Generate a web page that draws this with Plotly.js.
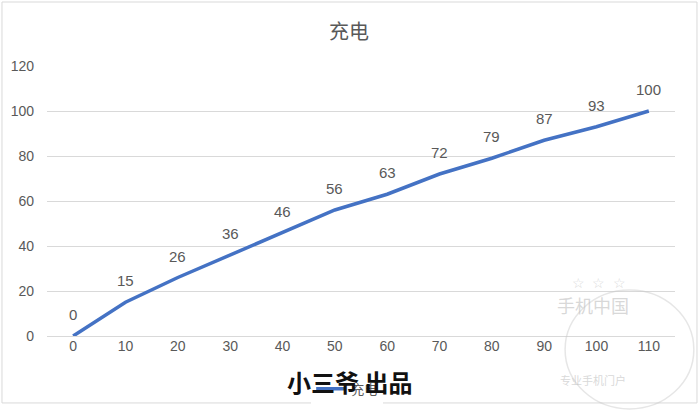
<!DOCTYPE html>
<html><head><meta charset="utf-8">
<script src="https://cdn.plot.ly/plotly-3.0.1.min.js"></script>
<style>body{margin:0;background:#fff}#c{width:698px;height:410px}</style>
</head><body><div id="c"></div>
<script>
const categories = ['0','10','20','30','40','50','60','70','80','90','100','110'];
const values = [0,15,26,36,46,56,63,72,79,87,93,100];
const seriesName = '充电';
const font = 'Liberation Sans, Arial, Noto Sans CJK SC, sans-serif';
const trace = {
  x: categories, y: values, type: 'scatter', mode: 'lines', name: seriesName,
  line: {color: '#4472C4', width: 3.5}
};
const labelAnns = categories.map((c, i) => ({
  x: i, y: values[i], xref: 'x', yref: 'y', text: String(values[i]), showarrow: false,
  yanchor: 'bottom', yshift: 11, font: {color: '#595959', size: 15, family: font}
}));
const layout = {
  width: 698, height: 410,
  margin: {l: 47, r: 23, t: 66, b: 74, autoexpand: false},
  paper_bgcolor: '#fff', plot_bgcolor: '#fff',
  title: {text: seriesName, x: 0.5, y: 0.922, xanchor: 'center', yanchor: 'middle', font: {size: 20, color: '#595959', family: 'Noto Sans CJK SC, sans-serif'}},
  xaxis: {type: 'category', range: [-0.5, 11.5], showgrid: false, zeroline: false, showline: false,
    ticks: '', tickfont: {size: 14, color: '#595959', family: font}, fixedrange: true},
  yaxis: {range: [0, 120], dtick: 20, showgrid: true, gridcolor: '#d9d9d9', gridwidth: 1, zeroline: true,
    zerolinecolor: '#d9d9d9', showline: false, ticks: '', ticklabelstandoff: 12,
    tickfont: {size: 14, color: '#595959', family: font}},
  showlegend: true,
  legend: {orientation: 'h', x: 0.478, xanchor: 'center', y: -0.14, yanchor: 'top',
    font: {size: 13, color: '#595959', family: 'Noto Sans CJK SC, sans-serif'}},
  shapes: [
    {type: 'rect', xref: 'paper', yref: 'paper', x0: -0.0717, x1: 1.035, y0: -0.248, y1: 1.237, line: {color: '#d9d9d9', width: 1}},
    {type: 'circle', xref: 'paper', yref: 'paper', x0: 0.825, x1: 1.03, y0: -0.27, y1: 0.17, line: {color: 'rgba(200,200,200,0.45)', width: 1.5}}
  ],
  annotations: labelAnns.concat([
    {text: '小三爷 出品', xref: 'paper', yref: 'paper', x: 0.481, y: -0.17, xanchor: 'center', yanchor: 'middle', showarrow: false,
     font: {size: 24, color: '#111', family: 'Noto Sans CJK SC, sans-serif', weight: 'bold'}},
    {text: '手机中国', xref: 'paper', yref: 'paper', x: 0.93, y: 0.06, showarrow: false,
     font: {size: 18, color: 'rgba(190,190,190,0.6)', family: 'Noto Sans CJK SC, sans-serif'}},
    {text: '☆  ☆  ☆', xref: 'paper', yref: 'paper', x: 0.925, y: 0.155, showarrow: false,
     font: {size: 14, color: 'rgba(190,190,190,0.6)'}},
    {text: '专业手机门户', xref: 'paper', yref: 'paper', x: 0.925, y: -0.2, showarrow: false,
     font: {size: 11, color: 'rgba(190,190,190,0.6)', family: 'Noto Sans CJK SC, sans-serif'}}
  ])
};
Plotly.newPlot('c', [trace], layout, {displayModeBar: false, staticPlot: true});
</script></body></html>
